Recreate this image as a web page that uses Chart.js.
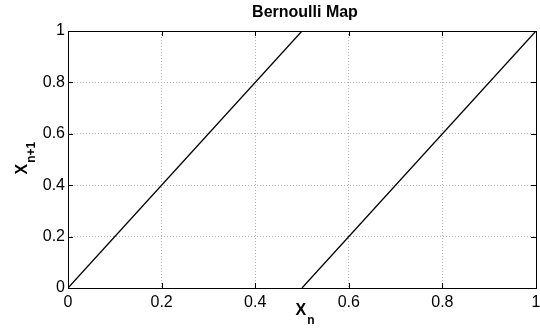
<!DOCTYPE html>
<html>
<head>
<meta charset="utf-8">
<script src="https://cdn.jsdelivr.net/npm/chart.js@4"></script>
<style>
  html, body { margin: 0; padding: 0; background: #fff; }
  #wrap { width: 540px; height: 329px; }
</style>
</head>
<body>
<div id="wrap"><canvas id="map-chart"></canvas></div>
<script>
// Bernoulli map: x(n+1) = 2 x(n) mod 1
const leftBranchX = [0, 0.5];
const leftBranchY = [0, 1];
const rightBranchX = [0.5, 1];
const rightBranchY = [0, 1];
const xTicks = [0, 0.2, 0.4, 0.6, 0.8, 1];
const yTicks = [0, 0.2, 0.4, 0.6, 0.8, 1];
const chartTitle = 'Bernoulli Map';

const FONT = '"Liberation Sans", Arial, Helvetica, sans-serif';

function toPoints(xs, ys) {
    return xs.map((x, i) => ({ x: x, y: ys[i] }));
}

// box, inward ticks, title and axis labels with subscripts (MATLAB look)
const matlabFrame = {
    id: 'matlabFrame',
    afterDraw(chart) {
        const ctx = chart.ctx;
        const a = chart.chartArea;
        const xs = chart.scales.x;
        const ys = chart.scales.y;
        const tl = 5;

        ctx.save();
        ctx.strokeStyle = '#000';
        ctx.lineWidth = 1;
        ctx.beginPath();
        xTicks.forEach(v => {
            const px = Math.round(xs.getPixelForValue(v)) + 0.5;
            ctx.moveTo(px, a.bottom); ctx.lineTo(px, a.bottom - tl);
            ctx.moveTo(px, a.top); ctx.lineTo(px, a.top + tl);
        });
        yTicks.forEach(v => {
            const py = Math.round(ys.getPixelForValue(v)) + 0.5;
            ctx.moveTo(a.left, py); ctx.lineTo(a.left + tl, py);
            ctx.moveTo(a.right, py); ctx.lineTo(a.right - tl, py);
        });
        ctx.stroke();
        ctx.strokeRect(Math.round(a.left) + 0.5, Math.round(a.top) + 0.5,
            Math.round(a.right - a.left), Math.round(a.bottom - a.top));

        ctx.fillStyle = '#000';
        // title
        ctx.font = 'bold 16px ' + FONT;
        ctx.textAlign = 'center';
        ctx.textBaseline = 'alphabetic';
        ctx.fillText(chartTitle, (a.left + a.right) / 2 + 3, 17);

        // x label: X_n
        ctx.textAlign = 'left';
        const cx = (a.left + a.right) / 2;
        ctx.font = 'bold 16px ' + FONT;
        const xw = ctx.measureText('X').width;
        ctx.fillText('X', cx - 6.5, a.bottom + 27);
        ctx.font = 'bold 12px ' + FONT;
        ctx.fillText('n', cx - 6.5 + xw + 1, a.bottom + 36);

        // y label: X_{n+1}
        const cy = (a.top + a.bottom) / 2;
        ctx.translate(a.left - 41, cy + 15);
        ctx.rotate(-Math.PI / 2);
        ctx.font = 'bold 16px ' + FONT;
        ctx.fillText('X', 0, 0);
        ctx.font = 'bold 12px ' + FONT;
        ctx.fillText('n+1', xw + 1, 8);
        ctx.restore();
    }
};

const gridStyle = {
    color: '#b4b4b4',
    lineWidth: 1,
    drawTicks: false
};

// keep the plot box where it is, labels may hang over the edges
function noScalePadding(s) {
    s.paddingLeft = 0;
    s.paddingRight = 0;
    s.paddingTop = 0;
    s.paddingBottom = 0;
}

new Chart(document.getElementById('map-chart'), {
    type: 'scatter',
    data: {
        datasets: [
            {
                label: 'left branch',
                data: toPoints(leftBranchX, leftBranchY),
                showLine: true,
                borderColor: '#000',
                borderWidth: 1.3,
                pointRadius: 0,
                fill: false
            },
            {
                label: 'right branch',
                data: toPoints(rightBranchX, rightBranchY),
                showLine: true,
                borderColor: '#000',
                borderWidth: 1.3,
                pointRadius: 0,
                fill: false
            }
        ]
    },
    options: {
        responsive: true,
        maintainAspectRatio: false,
        animation: false,
        devicePixelRatio: 1,
        layout: { padding: { top: 31, right: 4, left: 0, bottom: 0 } },
        plugins: {
            legend: { display: false },
            title: { display: false },
            tooltip: { enabled: false }
        },
        scales: {
            x: {
                type: 'linear',
                min: 0,
                max: 1,
                grid: gridStyle,
                border: { display: false, dash: [1, 2] },
                afterBuildTicks: s => { s.ticks = xTicks.map(v => ({ value: v })); },
                afterFit: s => { s.height = 41; noScalePadding(s); },
                ticks: {
                    color: '#000',
                    padding: 5,
                    maxRotation: 0,
                    font: { family: FONT, size: 16 },
                    callback: v => String(v)
                }
            },
            y: {
                type: 'linear',
                min: 0,
                max: 1,
                grid: gridStyle,
                border: { display: false, dash: [1, 2] },
                afterBuildTicks: s => { s.ticks = yTicks.map(v => ({ value: v })); },
                afterFit: s => { s.width = 68; noScalePadding(s); },
                ticks: {
                    color: '#000',
                    padding: 3,
                    font: { family: FONT, size: 16 },
                    callback: v => String(v)
                }
            }
        }
    },
    plugins: [matlabFrame]
});
</script>
</body>
</html>
